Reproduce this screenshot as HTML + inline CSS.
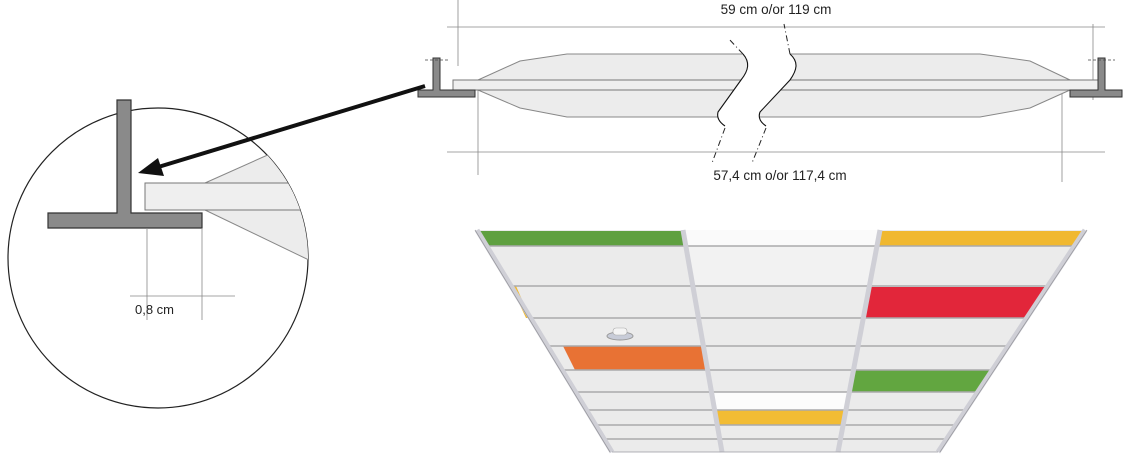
<!DOCTYPE html>
<html><head><meta charset="utf-8"><style>
html,body{margin:0;padding:0;background:#fff;width:1140px;height:457px;overflow:hidden}
svg{display:block}
text{font-family:"Liberation Sans",Arial,sans-serif;fill:#222}
</style></head><body>
<svg width="1140" height="457" viewBox="0 0 1140 457" xmlns="http://www.w3.org/2000/svg">
<defs><clipPath id="cc"><circle cx="158" cy="258" r="150"/></clipPath></defs>

<!-- ===== top cross-section ===== -->
<g stroke="#888" stroke-width="0.8" fill="none">
<line x1="447" y1="27" x2="1105" y2="27"/>
<line x1="447" y1="152" x2="1105" y2="152"/>
<line x1="458" y1="0" x2="458" y2="66"/>
<line x1="1093" y1="24" x2="1093" y2="100"/>
<line x1="478" y1="90" x2="478" y2="175"/>
<line x1="1062" y1="90" x2="1062" y2="182"/>
</g>
<!-- hull -->
<polygon points="478,80 520,61 567,54 980,54 1030,61 1070,80 1070,90 1030,108 980,117 567,117 520,108 478,90" fill="#ececec" stroke="#888" stroke-width="1"/>
<rect x="453" y="80" width="645" height="10" fill="#efefef" stroke="#777" stroke-width="1"/>
<!-- break -->
<path d="M740,50 L743,54 C750,62 749,70 741,80 L718,112 Q716,120 722,124 L766,124 Q757,120 760,112 L790,80 C797,70 799,62 790,54 L787,50 Z" fill="#fff" stroke="none"/>
<g stroke="#111" stroke-width="1.1" fill="none">
<path d="M743,54 C750,62 749,70 741,80 L718,112 Q716,120 725,126"/>
<path d="M790,54 C799,62 797,70 790,80 L760,112 Q757,120 766,126"/>
</g>
<g stroke="#222" stroke-width="1" fill="none" stroke-dasharray="6,3,1,3">
<path d="M743,54 L728,38"/>
<path d="M790,54 L784,24"/>
<path d="M725,128 L712,163"/>
<path d="M766,128 L752,163"/>
</g>
<!-- T profiles -->
<g fill="#8a8a8a" stroke="#333" stroke-width="1">
<path d="M433,58 h7 v32 h35 v7 h-57 v-7 h15 z"/>
<path d="M1098,58 h7 v32 h17 v7 h-52 v-7 h28 z"/>
</g>
<g stroke="#444" stroke-width="0.8" stroke-dasharray="3,2" fill="none">
<line x1="425" y1="60" x2="448" y2="60"/><line x1="1088" y1="60" x2="1115" y2="60"/>
</g>
<text x="776" y="14" font-size="13.5" text-anchor="middle">59 cm o/or 119 cm</text>
<text x="780" y="180" font-size="13.5" text-anchor="middle">57,4 cm o/or 117,4 cm</text>

<!-- ===== circle detail ===== -->
<circle cx="158" cy="258" r="150" fill="#fff" stroke="#222" stroke-width="1.2"/>
<g clip-path="url(#cc)">
<polygon points="205,183 290,145 340,140 340,275 205,210" fill="#ececec" stroke="#888" stroke-width="1"/>
<rect x="145" y="183" width="200" height="27" fill="#efefef" stroke="#777" stroke-width="1"/>
</g>
<path d="M117,100 h14 v113 h71 v15 h-154 v-15 h69 z" fill="#8a8a8a" stroke="#333" stroke-width="1.2"/>
<g stroke="#888" stroke-width="0.8">
<line x1="147" y1="228" x2="147" y2="320"/>
<line x1="202" y1="228" x2="202" y2="320"/>
<line x1="130" y1="296" x2="235" y2="296"/>
</g>
<text x="135" y="314" font-size="13">0,8 cm</text>

<!-- arrow -->
<line x1="425" y1="86" x2="155" y2="168" stroke="#111" stroke-width="4"/>
<polygon points="138,173 158,158 164,176" fill="#111"/>

<!-- ===== ceiling photo ===== -->
<polygon points="477,230 1085,230 938,452 612,452" fill="#ebebeb"/>
<polygon points="683,230 880,230 877,246 685.8,246" fill="#fafafa"/>
<polygon points="685.8,246 877,246 869.4,286 692.8,286" fill="#f2f2f2"/>
<polygon points="711.5,392 849.3,392 846,410 714.6,410" fill="#fcfcfc"/>
<polygon points="480,231 681,231 684,246 487,246" fill="#5fa040"/>
<polygon points="882,231 1083,231 1074,246 879,246" fill="#f0b830"/>
<polygon points="869,287 1047,287 1027,318 864,318" fill="#e2263a"/>
<polygon points="563,346 703,346 707,370 575,370" fill="#e87234"/>
<polygon points="854,370 992,370 978,392 849,392" fill="#62a640"/>
<polygon points="715,410 846,410 843,425 717,425" fill="#f2bc34"/>
<polygon points="511,286 516,286 530,318 526,318" fill="#f0b830"/>
<g stroke="#a9a9ab" stroke-width="1.6">
<line x1="486.7" y1="246" x2="1074.4" y2="246"/>
<line x1="511" y1="286" x2="1048" y2="286"/>
<line x1="530.5" y1="318" x2="1026.8" y2="318"/>
<line x1="547.6" y1="346" x2="1008.1" y2="346"/>
<line x1="562.2" y1="370" x2="992.2" y2="370"/>
<line x1="575.5" y1="392" x2="977.7" y2="392"/>
<line x1="586.5" y1="410" x2="965.8" y2="410"/>
<line x1="595.6" y1="425" x2="955.9" y2="425"/>
<line x1="604" y1="439" x2="946.7" y2="439"/>
</g>
<g stroke="#cfcfd6" stroke-width="5" fill="none">
<line x1="477" y1="230" x2="612" y2="452"/>
<line x1="683" y1="230" x2="722" y2="452"/>
<line x1="880" y1="230" x2="838" y2="452"/>
<line x1="1085" y1="230" x2="938" y2="452"/>
</g>
<g stroke="#9a9aa0" stroke-width="0.8" fill="none">
<line x1="475" y1="230" x2="610" y2="452"/>
<line x1="1087" y1="230" x2="940" y2="452"/>
<line x1="612" y1="452" x2="938" y2="452"/>
</g>
<ellipse cx="620" cy="336" rx="13" ry="4" fill="#c8ccd8" stroke="#999"/>
<rect x="613" y="328" width="14" height="7" rx="3" fill="#f4f4f4" stroke="#aaa" stroke-width="0.6"/>
</svg>
</body></html>
